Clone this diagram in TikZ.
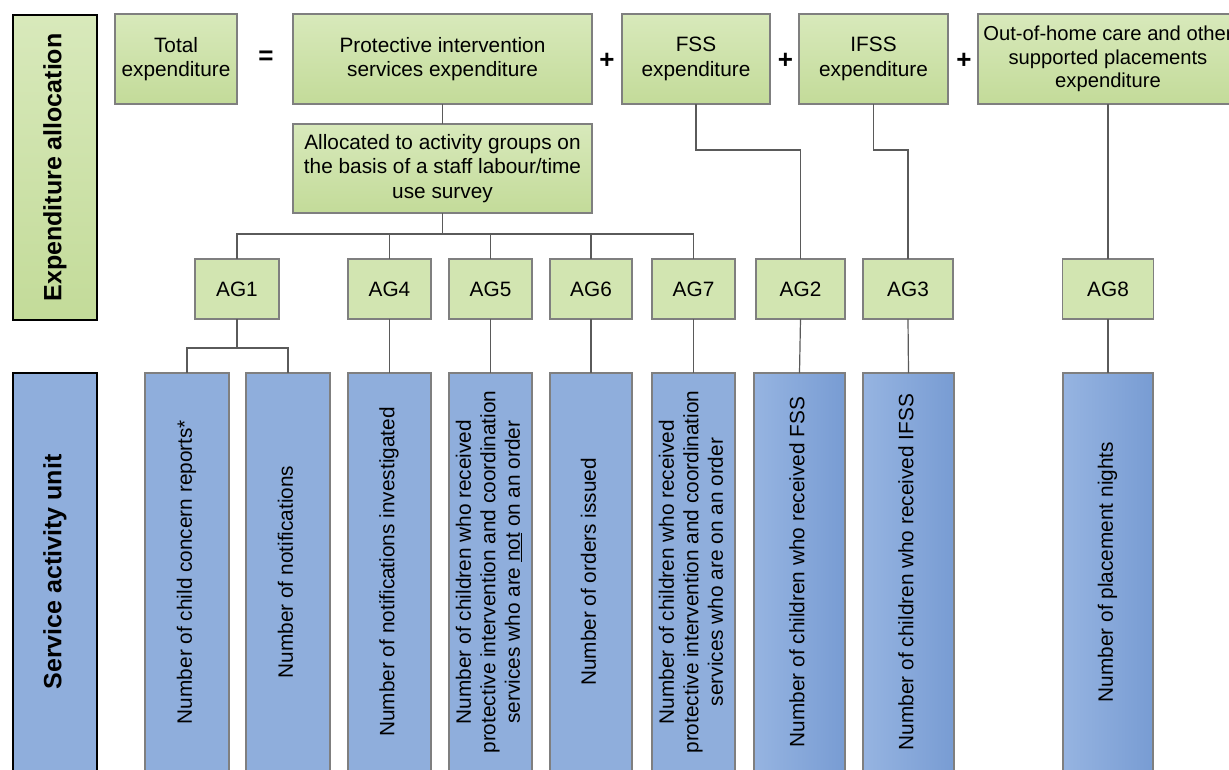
\documentclass[tikz,border=0pt]{standalone}
\usepackage{fontspec}
\setmainfont{Liberation Sans}
\usepackage{graphicx}
\definecolor{gTop}{HTML}{D8E9BB}
\definecolor{gBot}{HTML}{C3DB99}
\definecolor{gEdge}{HTML}{7F7F7F}
\definecolor{bFill}{HTML}{8FAEDC}
\definecolor{bLeft}{HTML}{96B4E1}
\definecolor{bRight}{HTML}{789CD3}
\definecolor{wire}{HTML}{5A5A5A}
\newcommand{\vtxt}[1]{\rotatebox{90}{\begin{tabular}{@{}c@{}}#1\end{tabular}}}
\tikzset{
  base/.style={inner sep=0pt, outer sep=0pt, align=center, font=\fontsize{20.8}{24.5}\selectfont},
  greenbox/.style={base, draw=gEdge, line width=1.2pt, top color=gTop, bottom color=gBot, minimum height=#1},
  greenbox/.default=90,
  agbox/.style={base, draw=gEdge, line width=1.2pt, fill=gTop!70!gBot, minimum height=60},
  bluebox/.style={base, draw=gEdge, line width=1.2pt, fill=bFill, minimum height=398},
  bluegrad/.style={base, draw=gEdge, line width=1.2pt, left color=bLeft, right color=bRight, minimum height=398},
  sidebox/.style={base, draw=black, line width=2pt, minimum width=84, font=\fontsize{25}{30}\selectfont\bfseries},
  sign/.style={inner sep=0pt, font=\fontsize{26}{30}\selectfont\bfseries},
  wire/.style={draw=wire, line width=1.2pt}
}
\begin{document}
\begin{tikzpicture}[x=1pt,y=-1pt]
\useasboundingbox (0,0) rectangle (1229,769);
\clip (0,0) rectangle (1229,769);
% side labels
\node[sidebox, top color=gTop, bottom color=gBot, minimum height=305] (labA) at (55,167.5) {\rotatebox{90}{Expenditure allocation}};
\node[sidebox, fill=bFill, minimum height=398] (labS) at (55,572) {\rotatebox{90}{Service activity unit}};
% top row
\node[greenbox, minimum width=122] (tot) at (176,59) {Total\\expenditure};
\node[sign] (eq) at (266,58) {=};
\node[greenbox, minimum width=299] (pis) at (442.5,59) {Protective intervention\\services expenditure};
\node[sign] (p1) at (607,61) {+};
\node[greenbox, minimum width=148] (fss) at (696,59) {FSS\\expenditure};
\node[sign] (p2) at (785.5,61) {+};
\node[greenbox, minimum width=149] (ifss) at (873.5,59) {IFSS\\expenditure};
\node[sign] (p3) at (964,61) {+};
\node[greenbox, minimum width=260, font=\fontsize{20.2}{23.5}\selectfont] (ooh) at (1108,59) {Out-of-home care and other\\supported placements\\expenditure};
\node[greenbox=89, minimum width=299] (alloc) at (442.5,168.5) {Allocated to activity groups on\\the basis of a staff labour/time\\use survey};
% activity groups
\node[agbox, minimum width=84] (ag1) at (237,289) {AG1};
\node[agbox, minimum width=83] (ag4) at (389.5,289) {AG4};
\node[agbox, minimum width=83] (ag5) at (490.5,289) {AG5};
\node[agbox, minimum width=82] (ag6) at (591,289) {AG6};
\node[agbox, minimum width=83] (ag7) at (693.5,289) {AG7};
\node[agbox, minimum width=89] (ag2) at (800.5,289) {AG2};
\node[agbox, minimum width=90] (ag3) at (908,289) {AG3};
\node[agbox, minimum width=91] (ag8) at (1108,289) {AG8};
% service activity units
\node[bluebox, minimum width=84] (u1a) at (187,572) {\vtxt{Number of child concern reports*}};
\node[bluebox, minimum width=84] (u1b) at (288,572) {\vtxt{Number of notifications}};
\node[bluebox, minimum width=83] (u4) at (389.5,572) {\vtxt{Number of notifications investigated}};
\node[bluebox, minimum width=83] (u5) at (490.5,572) {\vtxt{Number of children who received\\protective intervention and coordination\\services who are \underline{not} on an order}};
\node[bluebox, minimum width=82] (u6) at (591,572) {\vtxt{Number of orders issued}};
\node[bluebox, minimum width=83] (u7) at (693.5,572) {\vtxt{Number of children who received\\protective intervention and coordination\\services who are on an order}};
\node[bluegrad, minimum width=91] (u2) at (799.5,572) {\vtxt{Number of children who received FSS}};
\node[bluegrad, minimum width=91] (u3) at (908.5,572) {\vtxt{Number of children who received IFSS}};
\node[bluegrad, minimum width=90] (u8) at (1108,572) {\vtxt{Number of placement nights}};
% connectors
\coordinate (busA) at (442.5,234);
\coordinate (busB) at (237,348);
\draw[wire] (pis.south) -- (alloc.north);
\draw[wire] (alloc.south) -- (busA);
\draw[wire] (busA) -| (ag1.north);
\draw[wire] (busA) -| (ag4.north);
\draw[wire] (busA) -| (ag5.north);
\draw[wire] (busA) -| (ag6.north);
\draw[wire] (busA) -| (ag7.north);
\draw[wire] (fss.south) -- ++(0,46) -| (ag2.north);
\draw[wire] (ifss.south) -- ++(0,46) -| (ag3.north);
\draw[wire] (ooh.south) -- (ag8.north);
\draw[wire] (ag1.south) -- (busB);
\draw[wire] (busB) -| (u1a.north);
\draw[wire] (busB) -| (u1b.north);
\draw[wire] (ag4.south) -- (u4.north);
\draw[wire] (ag5.south) -- (u5.north);
\draw[wire] (ag6.south) -- (u6.north);
\draw[wire] (ag7.south) -- (u7.north);
\draw[wire] (ag2.south) -- (u2.north);
\draw[wire] (ag3.south) -- (u3.north);
\draw[wire] (ag8.south) -- (u8.north);
\end{tikzpicture}
\end{document}
